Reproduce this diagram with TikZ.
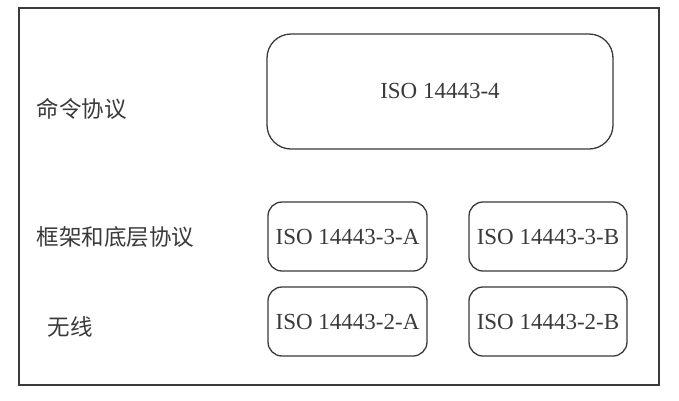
\documentclass[tikz,border=0pt]{standalone}
\usepackage{fontspec}
\setmainfont{Liberation Serif}
\newfontfamily\cjk{Noto Sans CJK SC}
\definecolor{ink}{HTML}{3A3A3A}
\begin{document}
\begin{tikzpicture}[x=1pt,y=-1pt,
  frame/.style={draw=ink,line width=1.3pt},
  bigbox/.style={draw=ink,line width=1.3pt,rounded corners=24pt},
  smallbox/.style={draw=ink,line width=1.3pt,rounded corners=14pt},
  isotext/.style={text=ink,font=\fontsize{23}{26}\selectfont},
  cntext/.style={text=ink,font=\cjk\fontsize{22.5}{25}\selectfont,anchor=west}]
\useasboundingbox (0,0) rectangle (679,400);
\fill[white] (0,0) rectangle (679,400);
\draw[frame] (19,8) rectangle (659,385);
% boxes
\draw[bigbox] (267,34) rectangle (613,149);
\node[isotext] (iso4) at (440,91) {ISO 14443-4};
\draw[smallbox] (268,202) rectangle (427,271);
\node[isotext] (iso3a) at (347.5,237) {ISO 14443-3-A};
\draw[smallbox] (469,202) rectangle (627,271);
\node[isotext] (iso3b) at (548,237) {ISO 14443-3-B};
\draw[smallbox] (268,287) rectangle (427,356);
\node[isotext] (iso2a) at (347.5,322) {ISO 14443-2-A};
\draw[smallbox] (469,287) rectangle (627,356);
\node[isotext] (iso2b) at (548,322) {ISO 14443-2-B};
% labels
\node[cntext] (cmd) at (33,109) {命令协议};
\node[cntext] (frm) at (33,237) {框架和底层协议};
\node[cntext] (rf) at (44,327) {无线};
\end{tikzpicture}
\end{document}
